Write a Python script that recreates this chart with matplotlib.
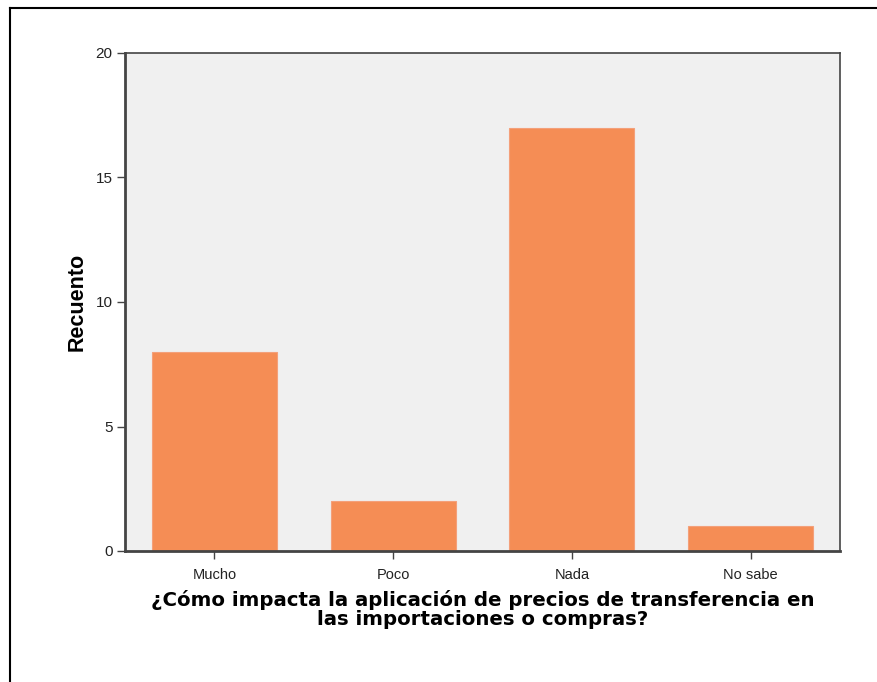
import matplotlib
matplotlib.use("Agg")
import matplotlib.pyplot as plt
from matplotlib.lines import Line2D

categorias = ["Mucho", "Poco", "Nada", "No sabe"]
recuento = [8, 2, 17, 1]
yticks = [0, 5, 10, 15, 20]

plt.rcParams['font.family'] = ['Liberation Sans', 'DejaVu Sans']

fig = plt.figure(figsize=(8.77, 6.82), dpi=100)
ax = fig.add_axes([125 / 877, 1 - 551 / 682, 715 / 877, 498 / 682])
ax.set_facecolor("#F0F0F0")

x = range(len(categorias))
ax.bar(x, recuento, width=0.70, color="#F58D55", edgecolor="#F4A07A", linewidth=0.8, zorder=2)

ax.set_xlim(-0.5, 3.5)
ax.set_ylim(0, 20)
ax.set_xticks(list(x))
ax.set_xticklabels(categorias, fontsize=10.5, color="#222222")
ax.set_yticks(yticks)
ax.set_yticklabels([str(v) for v in yticks], fontsize=11, color="#222222")
ax.tick_params(axis='both', direction='out', length=6, width=1, color="#444444", pad=3)
ax.tick_params(axis='x', pad=6)

for s in ax.spines.values():
    s.set_color("#444444")
    s.set_linewidth(1.2)
ax.spines['left'].set_linewidth(2)
ax.spines['bottom'].set_linewidth(2)

ax.set_ylabel("Recuento", fontsize=15.5, fontweight='bold', labelpad=6)
ax.set_xlabel("¿Cómo impacta la aplicación de precios de transferencia en\nlas importaciones o compras?",
              fontsize=14.2, fontweight='bold', family='DejaVu Sans', labelpad=6, linespacing=0.98)

# marco exterior (solo arriba e izquierda visibles)
fig.add_artist(Line2D([10 / 877, 1], [1 - 8 / 682, 1 - 8 / 682], color="black", lw=1.5,
                      transform=fig.transFigure))
fig.add_artist(Line2D([10 / 877, 10 / 877], [0, 1 - 8 / 682], color="black", lw=1.5,
                      transform=fig.transFigure))

fig.savefig("out.png", dpi=100)
